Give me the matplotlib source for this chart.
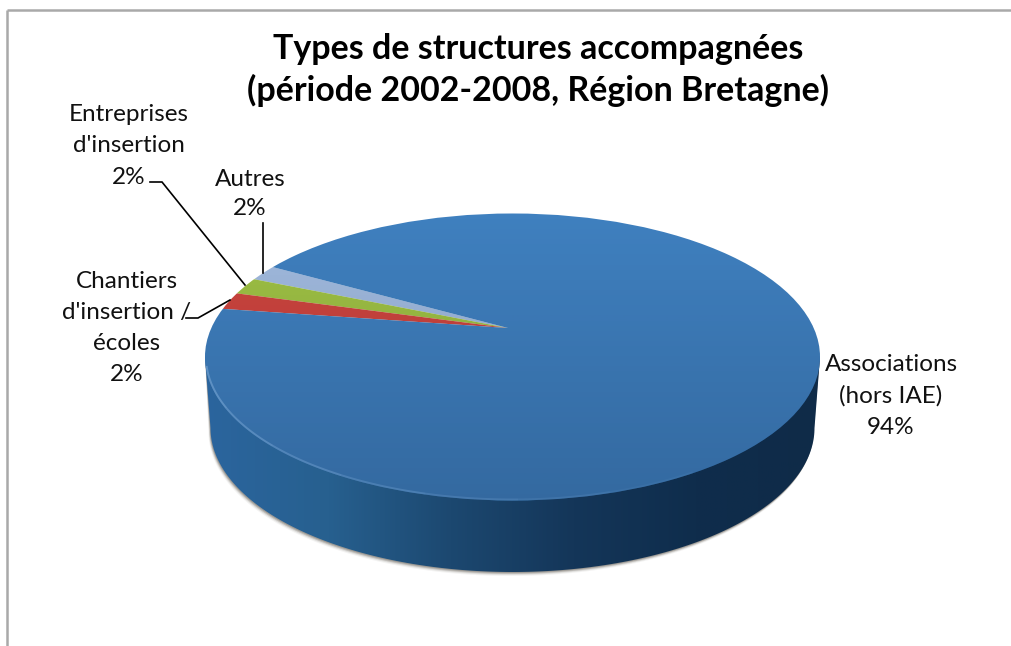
#!/usr/bin/env python3
"""Types de structures accompagnees - fake 3D pie, drawn in pixel coordinates."""

import numpy as np
import matplotlib
matplotlib.use('Agg')
import matplotlib.pyplot as plt
from matplotlib.colors import LinearSegmentedColormap, ListedColormap
from matplotlib.patches import Ellipse, PathPatch
from matplotlib.path import Path

W, H = 1012, 646

# counter-clockwise from the Autres slice
CATEGORIES = ['Autres', "Entreprises\nd'insertion", "Chantiers\nd'insertion /\nécoles", 'Associations\n(hors IAE)']
VALUES = [1.8, 1.9, 1.9, 94.4]
PERCENT_LABELS = ['2%', '2%', '2%', '94%']
COLORS = ['#a2bbdf', '#a0c242', '#d0443c', '#3f80bf']
TITLE = 'Types de structures accompagnées\n(période 2002-2008, Région Bretagne)'

LABEL_POS = [(250, 194), (129, 146), (127, 328), (891, 396)]
LABEL_SPACING = [1.5, 1.6, 1.6, 1.6]

# top face ellipse and bottom rim, in pixels
CX, CY, RX, RY = 512.5, 357, 307.5, 143.5
BOT_CY, BOT_RX, BOT_RY = 428, 302, 144
APEX = (508, 328)
SCALE_X, SCALE_Y = 308, 150

LEADERS = [
    [(263, 223), (263, 273)],
    [(150, 182), (162, 182), (245, 285)],
    [(186, 318), (198, 318), (230, 300)],
]

plt.rcParams['font.family'] = ['Lato', 'DejaVu Sans']


def pixel_axes(fig):
    ax = fig.add_axes([0, 0, 1, 1])
    ax.set_xlim(0, W)
    ax.set_ylim(H, 0)
    ax.axis('off')
    ax.patch.set_alpha(0)
    return ax


def side_path(shift_x=0, shift_y=0):
    t = np.linspace(np.pi, 0, 200)
    xs = CX + BOT_RX * np.cos(t) + shift_x
    ys = BOT_CY + BOT_RY * np.sin(t) + shift_y
    verts = [(CX - RX, CY)] + list(zip(xs, ys)) + [(CX + RX, CY), (CX - RX, CY)]
    return Path(verts, closed=True)


fig = plt.figure(figsize=(W / 100, H / 100), dpi=100, facecolor='white')

# chart frame: only top and left edges show
back = pixel_axes(fig)
back.plot([7, W], [10, 10], color='#a9a9a9', lw=1.8, solid_capstyle='butt')
back.plot([7, 7], [10, H], color='#a9a9a9', lw=1.8, solid_capstyle='butt')

# soft shadow under the side
for off, alpha in [(4, 0.08), (3, 0.15), (2, 0.3), (1, 0.4)]:
    back.add_patch(PathPatch(side_path(-off * 0.5, off), fc='#6f6a62', ec='none', alpha=alpha, zorder=1))

# side wall, dark to the right
side = PathPatch(side_path(), fc='none', ec='none')
back.add_patch(side)
side_cmap = LinearSegmentedColormap.from_list('side', ['#2b659e', '#27608f', '#1c4870', '#143659', '#0f2d4c', '#0f2b48'])
im = back.imshow(np.linspace(0, 1, 256).reshape(1, -1), cmap=side_cmap, aspect='auto', zorder=2,
                 extent=(CX - RX, CX + RX, BOT_CY + BOT_RY, CY))
im.set_clip_path(side)
back.set_xlim(0, W)
back.set_ylim(H, 0)

# pie on its own axes, squashed so that it lies flat
ax = fig.add_axes([0, 0, 1, 1])
wedges, _ = ax.pie(VALUES, colors=COLORS, startangle=152, counterclock=True, radius=2.2,
                   wedgeprops={'linewidth': 0})
ax.set_aspect('auto')
ax.set_xlim(-APEX[0] / SCALE_X, (W - APEX[0]) / SCALE_X)
ax.set_ylim((APEX[1] - H) / SCALE_Y, APEX[1] / SCALE_Y)
ax.patch.set_alpha(0)

top = pixel_axes(fig)
face = Ellipse((CX, CY), 2 * RX, 2 * RY, fc='none', ec='none')
top.add_patch(face)
for w in wedges:
    w.set_clip_on(True)
    w.set_clip_path(face)

# the face darkens slightly towards the front
shade = ListedColormap(np.column_stack([np.tile([0.05, 0.1, 0.2], (256, 1)), np.linspace(0, 0.22, 256)]))
im2 = top.imshow(np.linspace(0, 1, 256).reshape(-1, 1), cmap=shade, aspect='auto',
                 extent=(CX - RX, CX + RX, CY + RY, CY - RY))
im2.set_clip_path(face)

# light bevel along the front rim, fading towards the right
edges = np.linspace(np.pi * 0.98, np.pi * 0.3, 8)
for i in range(len(edges) - 1):
    t = np.linspace(edges[i], edges[i + 1], 40)
    top.plot(CX + (RX - 1) * np.cos(t), CY + (RY - 1) * np.sin(t), color='#77a5d3', lw=1.4,
             alpha=0.6 * (1 - i / 7), solid_capstyle='butt')
top.set_xlim(0, W)
top.set_ylim(H, 0)

for line in LEADERS:
    xs, ys = zip(*line)
    top.plot(xs, ys, color='black', lw=1.2, solid_joinstyle='miter')

for name, pct, (x, y), sp in zip(CATEGORIES, PERCENT_LABELS, LABEL_POS, LABEL_SPACING):
    top.text(x, y, f'{name}\n{pct}', ha='center', va='center', fontsize=17.5,
             linespacing=sp, color='#111111')

top.text(538, 70, TITLE, ha='center', va='center', fontsize=24.5, fontweight='bold',
         linespacing=1.36, color='black')

fig.savefig('out.png', dpi=100)
plt.close(fig)
